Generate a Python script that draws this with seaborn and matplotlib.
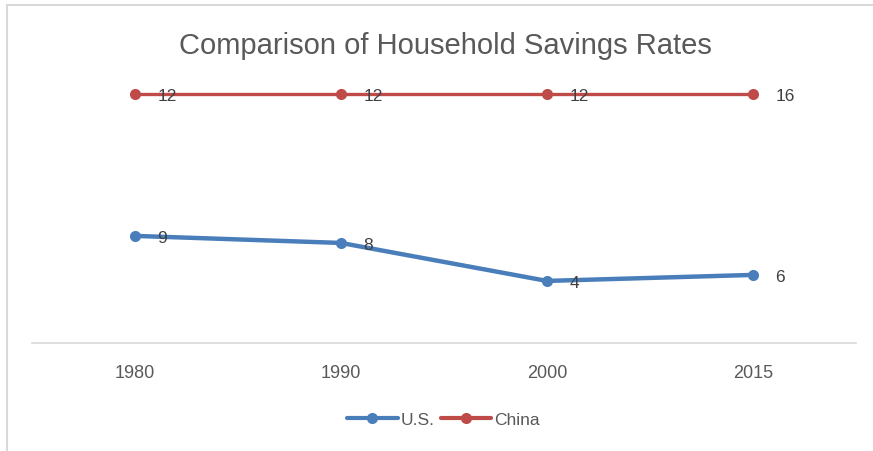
import matplotlib
matplotlib.use("Agg")
import matplotlib.pyplot as plt
import seaborn as sns
import pandas as pd
from matplotlib.lines import Line2D

sns.set_theme(style="white")
plt.rcParams["font.family"] = ["Liberation Sans", "DejaVu Sans"]

years = ["1980", "1990", "2000", "2015"]
# data labels as printed on the chart
us_labels = [9, 8, 4, 6]
china_labels = [12, 12, 12, 16]
# heights of the markers as drawn (the source chart does not follow its labels)
us_plotted = [5.16, 4.82, 2.99, 3.28]
china_plotted = [12, 12, 12, 12]

series = ["U.S.", "China"]
colors = {"U.S.": "#4A7EBB", "China": "#BE4B48"}
text_grey = "#595959"

rows = []
for i, yr in enumerate(years):
    rows.append([i, yr, "U.S.", us_plotted[i], us_labels[i]])
    rows.append([i, yr, "China", china_plotted[i], china_labels[i]])
df = pd.DataFrame(rows, columns=["pos", "year", "series", "value", "label"])

fig = plt.figure(figsize=(8.73, 4.52), dpi=100)
ax = fig.add_axes([0.0367, 0.239, 0.9438, 0.595])

for name in series:
    sub = df[df["series"] == name]
    sns.lineplot(
        data=sub, x="pos", y="value", ax=ax, color=colors[name],
        linewidth=3.2 if name == "U.S." else 2.4,
        marker="o", markersize=8, markeredgewidth=0, legend=False,
    )
    for _, r in sub.iterrows():
        ax.annotate(str(r["label"]), (r["pos"], r["value"]), xytext=(16, -1),
                    textcoords="offset points", ha="left", va="center",
                    fontsize=12.5, color="#404040")

ax.set_xlim(-0.5, 3.5)
ax.set_ylim(0, 12.96)
ax.set_xticks(range(len(years)))
ax.set_xticklabels(years, fontsize=13, color=text_grey)
ax.tick_params(axis="x", length=0, pad=15)
ax.set_yticks([])
ax.set_xlabel("")
ax.set_ylabel("")
for s in ["top", "left", "right"]:
    ax.spines[s].set_visible(False)
ax.spines["bottom"].set_color("#D9D9D9")
ax.spines["bottom"].set_linewidth(1.2)

fig.text(0.51, 0.898, "Comparison of Household Savings Rates",
         ha="center", va="center", fontsize=21, color=text_grey)

handles = [Line2D([0], [0], color=colors[n], linewidth=3, marker="o", markersize=8,
                  markeredgewidth=0) for n in series]
fig.legend(handles, series, loc="center", bbox_to_anchor=(0.508, 0.07), ncol=2,
           frameon=False, fontsize=12.5, handlelength=2.9, handletextpad=0.15,
           columnspacing=0.4, labelcolor=text_grey)

# chart frame (top and left edges visible in the source)
fig.add_artist(Line2D([7 / 873, 1], [1 - 6 / 452, 1 - 6 / 452], color="#D9D9D9", linewidth=1.5))
fig.add_artist(Line2D([7 / 873, 7 / 873], [0, 1 - 6 / 452], color="#D9D9D9", linewidth=1.5))

fig.savefig("out.png", dpi=100)
